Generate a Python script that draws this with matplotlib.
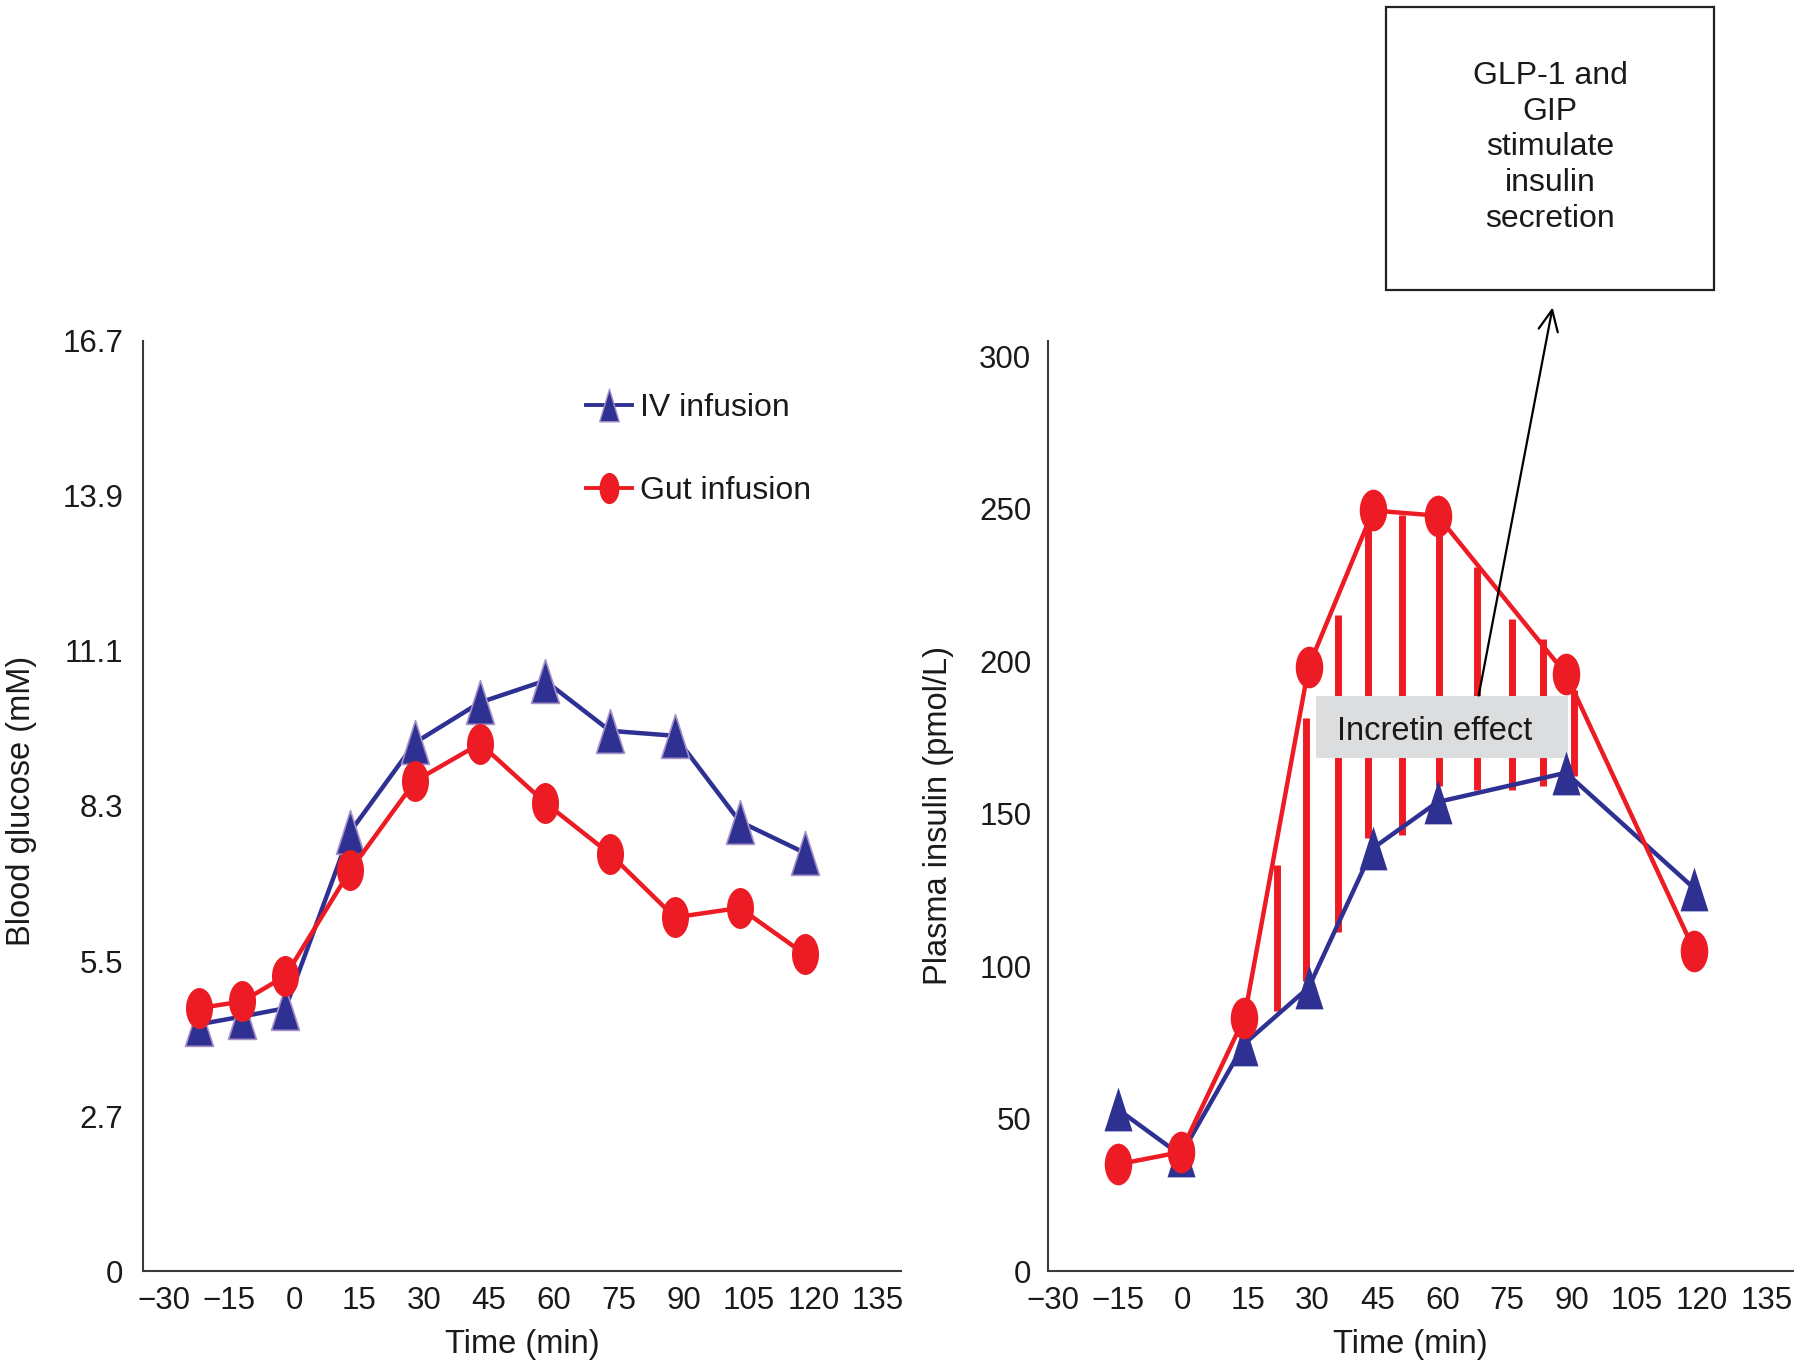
import numpy as np
import matplotlib
matplotlib.use("Agg")
import matplotlib.pyplot as plt
from matplotlib.path import Path
from matplotlib.transforms import Affine2D
from matplotlib.lines import Line2D
from matplotlib.patches import Rectangle

# ---------------- data ----------------
glu_time = [-22, -12, -2, 13, 28, 43, 58, 73, 88, 103, 118]
glu_iv = [4.43, 4.57, 4.72, 7.89, 9.49, 10.21, 10.6, 9.70, 9.61, 8.07, 7.51]
glu_gut = [4.72, 4.84, 5.30, 7.20, 8.80, 9.47, 8.41, 7.49, 6.35, 6.52, 5.69]
glu_tick_labels = ["0", "2.7", "5.5", "8.3", "11.1", "13.9", "16.7"]

ins_time = [-15, -0.5, 14.2, 29.1, 44.0, 58.9, 88.6, 118.3]
ins_iv = [53.0, 38.0, 74.5, 93.0, 138.7, 153.8, 163.4, 125.4]
ins_gut = [35.0, 39.0, 83.0, 198.2, 249.4, 247.7, 195.7, 105.0]

# red "incretin effect" hatching bars: time, lower end, upper end
hatch_time = [21.7, 28.4, 35.9, 42.9, 50.6, 59.2, 67.9, 76.0, 83.2, 90.4]
hatch_low = [85.3, 95.0, 111.1, 142.0, 143.1, 158.9, 157.7, 157.7, 159.1, 162.3]
hatch_high = [133.1, 181.5, 215.2, 248.0, 247.8, 247.0, 230.8, 213.8, 207.4, 190.6]

time_ticks = list(range(-30, 136, 15))
ins_ticks = [0, 50, 100, 150, 200, 250, 300]

legend_labels = ["IV infusion", "Gut infusion"]
box_text = "GLP-1 and\nGIP\nstimulate\ninsulin\nsecretion"
incretin_text = "Incretin effect"

# ---------------- style ----------------
plt.rcParams["font.family"] = ["Liberation Sans", "DejaVu Sans"]
BLUE = "#2E3192"
RED = "#ED1C24"
PURPLE = "#A890C8"
SPINE = "#3a3a3a"
TXT = "#1a1a1a"


def tri_marker(ratio):
    verts = [(0, 1), (-ratio, -1), (ratio, -1), (0, 1)]
    return Path(verts, [Path.MOVETO, Path.LINETO, Path.LINETO, Path.CLOSEPOLY])


def ell_marker(ratio):
    return Affine2D().scale(ratio, 1.0).transform_path(Path.unit_circle())


TRI = tri_marker(0.64)
ELL = ell_marker(0.66)
TRI_L = tri_marker(0.60)
ELL_L = ell_marker(0.64)

fig = plt.figure(figsize=(18, 13.67), dpi=100)
axL = fig.add_axes([0.0793, 0.0702, 0.5006 - 0.0793, 0.7506 - 0.0702])
axR = fig.add_axes([0.5822, 0.0702, 0.9959 - 0.5822, 0.7506 - 0.0702])

for ax in (axL, axR):
    for s in ("top", "right"):
        ax.spines[s].set_visible(False)
    for s in ("left", "bottom"):
        ax.spines[s].set_color(SPINE)
        ax.spines[s].set_linewidth(1.5)
    ax.set_xticks(time_ticks)
    ax.tick_params(axis="both", length=0, labelsize=22.5, colors=TXT)
    ax.tick_params(axis="x", pad=11)
    ax.set_xlabel("Time (min)", fontsize=23.5, color=TXT, labelpad=9)

# ---------- left: blood glucose ----------
axL.plot(glu_time, glu_iv, color=BLUE, lw=3.2, marker=TRI, markersize=31.5,
         markerfacecolor=BLUE, markeredgecolor=PURPLE, markeredgewidth=1.2, zorder=3)
axL.plot(glu_time, glu_gut, color=RED, lw=3.2, marker=ELL, markersize=29.5,
         markerfacecolor=RED, markeredgewidth=0, zorder=4)
axL.set_xlim(-35, 140.3)
axL.set_ylim(0, 16.7)
axL.set_yticks(np.linspace(0, 16.7, len(glu_tick_labels)))
axL.set_yticklabels(glu_tick_labels)
axL.tick_params(axis="y", pad=14)
axL.set_ylabel("Blood glucose (mM)", fontsize=23.5, color=TXT)
axL.yaxis.set_label_coords(-0.140, 0.505)

handles = [
    Line2D([], [], color=BLUE, lw=2.8, marker=TRI_L, markersize=23.5,
           markerfacecolor=BLUE, markeredgecolor=PURPLE, markeredgewidth=1.0),
    Line2D([], [], color=RED, lw=2.8, marker=ELL_L, markersize=22.5,
           markerfacecolor=RED, markeredgewidth=0),
]
axL.legend(handles, legend_labels, loc="center left", bbox_to_anchor=(0.5846, 0.883),
           frameon=False, fontsize=23, handlelength=1.43, handletextpad=0.25,
           labelspacing=1.66, borderpad=0, borderaxespad=0, labelcolor=TXT)

# ---------- right: plasma insulin ----------
axR.vlines(hatch_time, hatch_low, hatch_high, colors=RED, linewidth=5.0, zorder=2)
axR.add_patch(Rectangle((30.7, 168.2), 58.4, 20.5, facecolor="#DCDDDE",
                        edgecolor="none", zorder=3))
axR.text(58.3, 177.0, incretin_text, ha="center", va="center", fontsize=23.5,
         color=TXT, zorder=6)
axR.plot(ins_time, ins_iv, color=BLUE, lw=3.2, marker=TRI, markersize=31.5,
         markerfacecolor=BLUE, markeredgewidth=0, zorder=4)
axR.plot(ins_time, ins_gut, color=RED, lw=3.2, marker=ELL, markersize=30,
         markerfacecolor=RED, markeredgewidth=0, zorder=5)
axR.set_xlim(-31.2, 141.0)
axR.set_ylim(0, 305)
axR.set_yticks(ins_ticks)
axR.tick_params(axis="y", pad=12)
axR.set_ylabel("Plasma insulin (pmol/L)", fontsize=23.5, color=TXT)
axR.yaxis.set_label_coords(-0.1256, 0.49)
axR.xaxis.label.set_x(0.486)

axR.annotate("", xy=(85.5, 316.0), xytext=(68.4, 188.7), xycoords="data",
             textcoords="data", annotation_clip=False,
             arrowprops=dict(arrowstyle="->, head_length=0.75, head_width=0.35",
                             color="black", lw=1.6, shrinkA=0, shrinkB=0,
                             mutation_scale=20), zorder=7)

# ---------- top-right text box ----------
fig.add_artist(Rectangle((0.770, 0.7879), 0.1822, 0.2070, transform=fig.transFigure,
                         fill=False, edgecolor="#222222", linewidth=1.6))
fig.text(0.8611, 0.8921, box_text, ha="center", va="center", fontsize=23,
         color=TXT, linespacing=1.26)

fig.savefig("out.png", dpi=100)
